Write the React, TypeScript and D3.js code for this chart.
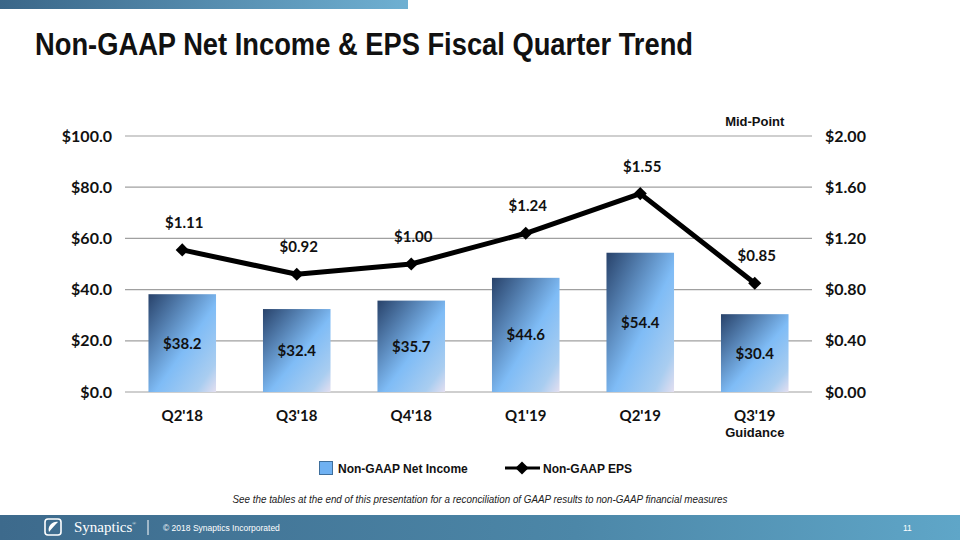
import React from "react";
import * as d3 from "d3";

const categories = ["Q2'18", "Q3'18", "Q4'18", "Q1'19", "Q2'19", "Q3'19"];
const netIncome = [38.2, 32.4, 35.7, 44.6, 54.4, 30.4];
const eps = [1.11, 0.92, 1.0, 1.24, 1.55, 0.85];
const leftTicks = [0, 20, 40, 60, 80, 100];
const rightTicks = [0, 0.4, 0.8, 1.2, 1.6, 2.0];

const W = 960;
const H = 540;
const plotLeft = 125;
const plotRight = 812;
const plotTop = 136;
const plotBottom = 392;

const x = d3.scaleBand<string>().domain(categories).range([plotLeft, plotRight]).paddingInner(0.41).paddingOuter(0.205);
const yL = d3.scaleLinear().domain([0, 100]).range([plotBottom, plotTop]);
const yR = d3.scaleLinear().domain([0, 2]).range([plotBottom, plotTop]);

const calibri = "Lato, 'Open Sans', sans-serif";
const arial = "'Liberation Sans', Arial, sans-serif";

export default function App() {
  const line = d3
    .line<number>()
    .x((_, i) => (x(categories[i]) as number) + x.bandwidth() / 2)
    .y((d) => yR(d));
  const diamond = d3.symbol().type(d3.symbolDiamond2).size(110)();

  return (
    <svg width={W} height={H} style={{ position: "absolute", left: 0, top: 0 }}>
      <defs>
        <linearGradient id="topband" x1="0" y1="0" x2="1" y2="0">
          <stop offset="0" stopColor="#3a6688" />
          <stop offset="1" stopColor="#6fb0d2" />
        </linearGradient>
        <linearGradient id="footband" x1="0" y1="0" x2="1" y2="0">
          <stop offset="0" stopColor="#3d6a8c" />
          <stop offset="0.6" stopColor="#4c87a8" />
          <stop offset="1" stopColor="#5fa6c8" />
        </linearGradient>
        <linearGradient id="bargrad" x1="0" y1="0" x2="1" y2="1">
          <stop offset="0" stopColor="#28426a" />
          <stop offset="0.55" stopColor="#7fbcf6" />
          <stop offset="0.85" stopColor="#a9cdf0" />
          <stop offset="1" stopColor="#e4dff0" />
        </linearGradient>
      </defs>
      <rect x={0} y={0} width={W} height={H} fill="#ffffff" />
      <rect x={0} y={0} width={408} height={9} fill="url(#topband)" />

      <text
        x={35}
        y={55}
        fontFamily={arial}
        fontWeight="bold"
        fontSize={32}
        fill="#111"
        textLength={658}
        lengthAdjust="spacingAndGlyphs"
      >
        Non-GAAP Net Income &amp; EPS Fiscal Quarter Trend
      </text>

      {leftTicks.map((t) => (
        <line key={"g" + t} x1={plotLeft} x2={plotRight} y1={yL(t)} y2={yL(t)} stroke="#a0a0a0" strokeWidth={1.2} />
      ))}

      {leftTicks.map((t) => (
        <text key={"l" + t} x={112} y={yL(t) + 5.5} textAnchor="end" fontFamily={calibri} fontWeight="bold" fontSize={16} fill="#111">
          {"$" + t.toFixed(1)}
        </text>
      ))}
      {rightTicks.map((t) => (
        <text key={"r" + t} x={825} y={yR(t) + 5.5} textAnchor="start" fontFamily={calibri} fontWeight="bold" fontSize={16} fill="#111">
          {"$" + t.toFixed(2)}
        </text>
      ))}

      {netIncome.map((v, i) => (
        <rect
          key={"b" + i}
          x={x(categories[i])}
          y={yL(v)}
          width={x.bandwidth()}
          height={yL(0) - yL(v)}
          fill="url(#bargrad)"
        />
      ))}
      {netIncome.map((v, i) => (
        <text
          key={"bl" + i}
          x={(x(categories[i]) as number) + x.bandwidth() / 2}
          y={(yL(v) + yL(0)) / 2 + 5.5}
          textAnchor="middle"
          fontFamily={calibri}
          fontWeight="bold"
          fontSize={15}
          fill="#111"
        >
          {"$" + v.toFixed(1)}
        </text>
      ))}

      <path d={line(eps) as string} fill="none" stroke="#000" strokeWidth={5} strokeLinejoin="round" />
      {eps.map((v, i) => (
        <path
          key={"m" + i}
          d={diamond as string}
          transform={`translate(${(x(categories[i]) as number) + x.bandwidth() / 2},${yR(v)})`}
          fill="#000"
        />
      ))}
      {eps.map((v, i) => (
        <text
          key={"el" + i}
          x={(x(categories[i]) as number) + x.bandwidth() / 2 + 2}
          y={yR(v) - 22}
          textAnchor="middle"
          fontFamily={calibri}
          fontWeight="bold"
          fontSize={15}
          fill="#111"
        >
          {"$" + v.toFixed(2)}
        </text>
      ))}

      {categories.map((c) => (
        <text
          key={"c" + c}
          x={(x(c) as number) + x.bandwidth() / 2}
          y={421}
          textAnchor="middle"
          fontFamily={calibri}
          fontWeight="bold"
          fontSize={15}
          fill="#111"
        >
          {c}
        </text>
      ))}
      <text
        x={(x(categories[5]) as number) + x.bandwidth() / 2}
        y={437}
        textAnchor="middle"
        fontFamily={arial}
        fontWeight="bold"
        fontSize={13}
        fill="#111"
      >
        Guidance
      </text>
      <text
        x={(x(categories[5]) as number) + x.bandwidth() / 2}
        y={126}
        textAnchor="middle"
        fontFamily={arial}
        fontWeight="bold"
        fontSize={13}
        fill="#111"
      >
        Mid-Point
      </text>

      <rect x={319.5} y={461.5} width={13} height={13} fill="#6fb1f2" stroke="#3f6f9c" strokeWidth={1} />
      <text x={338} y={472.5} fontFamily={arial} fontWeight="bold" fontSize={12} fill="#111">
        Non-GAAP Net Income
      </text>
      <line x1={505} x2={540} y1={468} y2={468} stroke="#000" strokeWidth={3} />
      <path d={diamond as string} transform="translate(522,468)" fill="#000" />
      <text x={543} y={472.5} fontFamily={arial} fontWeight="bold" fontSize={12} fill="#111">
        Non-GAAP EPS
      </text>

      <text x={480} y={503} textAnchor="middle" fontFamily={arial} fontStyle="italic" fontSize={11.5} fill="#222" textLength={495} lengthAdjust="spacingAndGlyphs">
        See the tables at the end of this presentation for a reconciliation of GAAP results to non-GAAP financial measures
      </text>

      <rect x={0} y={515} width={W} height={25} fill="url(#footband)" />
      <g transform="translate(53,527)">
        <rect x={-8} y={-8} width={16} height={16} rx={3} fill="none" stroke="#fff" strokeWidth={1.6} />
        <path d="M-4,5 C-6,-1 0,-6 5,-5 C2,-2 -1,1 -4,5 Z" fill="#fff" />
      </g>
      <text x={74} y={532} fontFamily="'Liberation Serif', serif" fontSize={15} fill="#fff">
        Synaptics
        <tspan fontSize={5} dy={-7}>®</tspan>
      </text>
      <line x1={148} x2={148} y1={520} y2={535} stroke="#fff" strokeWidth={1} />
      <text x={163} y={531} fontFamily={arial} fontSize={8.5} fill="#fff">
        © 2018 Synaptics Incorporated
      </text>
      <text x={903} y={531} fontFamily={arial} fontSize={8.5} fill="#fff">
        11
      </text>
    </svg>
  );
}
